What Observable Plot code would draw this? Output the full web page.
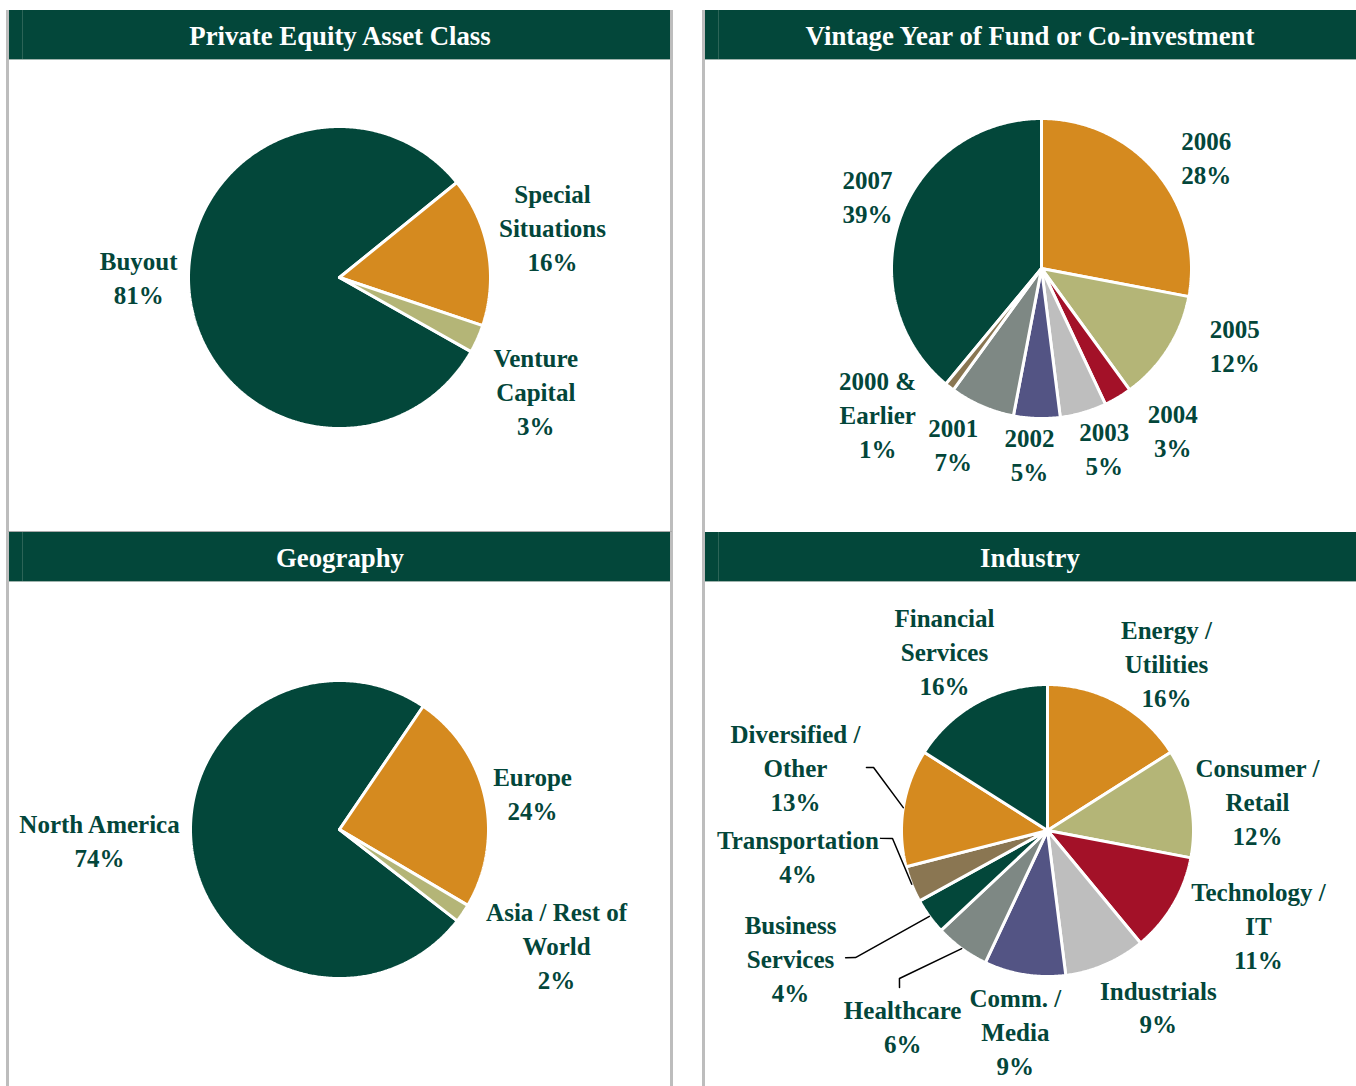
<!DOCTYPE html>
<html><head><meta charset="utf-8">
<script src="https://cdn.jsdelivr.net/npm/d3@7"></script>
<script src="https://cdn.jsdelivr.net/npm/@observablehq/plot@0.6"></script>
<style>
html,body{margin:0;padding:0;background:#fff;}
body{width:1356px;height:1086px;overflow:hidden;position:relative;font-family:"Liberation Serif","Times New Roman",serif;}
.abs{position:absolute;}
.hdr{position:absolute;height:50px;background:#03473A;color:#fff;font-weight:bold;font-size:26.8px;display:flex;align-items:center;justify-content:center;box-sizing:border-box;padding-top:4px;border-bottom:1px solid #9fb3ad;}
.vline{position:absolute;width:3px;background:#bdbdbd;z-index:5;}
.hline{position:absolute;height:1px;background:#a9a9a9;z-index:5;}
svg{display:block;}
</style></head>
<body>
<div id="root"></div>
<script>
// ---------- DATA ----------
const assetClasses = ["Buyout", "Special\nSituations", "Venture\nCapital"];
const assetShares = [81, 16, 3];

const vintageYears = ["2007", "2006", "2005", "2004", "2003", "2002", "2001", "2000 &\nEarlier"];
const vintageShares = [39, 28, 12, 3, 5, 5, 7, 1];

const regions = ["North America", "Europe", "Asia / Rest of\nWorld"];
const regionShares = [74, 24, 2];

const industries = ["Energy /\nUtilities", "Consumer /\nRetail", "Technology /\nIT", "Industrials",
  "Comm. /\nMedia", "Healthcare", "Business\nServices", "Transportation", "Diversified /\nOther", "Financial\nServices"];
const industryShares = [16, 12, 11, 9, 9, 6, 4, 4, 13, 16];

const panelTitles = ["Private Equity Asset Class", "Vintage Year of Fund or Co-investment", "Geography", "Industry"];

// ---------- STYLE ----------
const GREEN = "#03473A", ORANGE = "#D58A1F", KHAKI = "#B4B577", RED = "#A31128",
      LGRAY = "#BEBEBE", PURPLE = "#535484", GRAY = "#7E8884", BROWN = "#8A7652";
const TEXT = "#03463A";

const assetColors = [GREEN, ORANGE, KHAKI];
const vintageColors = [GREEN, ORANGE, KHAKI, RED, LGRAY, PURPLE, GRAY, BROWN];
const regionColors = [GREEN, ORANGE, KHAKI];
const industryColors = [ORANGE, KHAKI, RED, LGRAY, PURPLE, GRAY, GREEN, BROWN, ORANGE, GREEN];

// label placement: [radius factor, angle nudge in degrees from slice mid-angle]
const assetLabelPos = [[1.33, 4.2], [1.446, -2.5], [1.51, 6.6]];
const vintageLabelPos = [[1.25, 2.1], [1.32, 5.9], [1.39, -10.3], [1.40, -8.1], [1.28, -2.9], [1.256, 1.85], [1.32, 3.1], [1.47, 10.2]];
const regionLabelPos = [[1.613, 5.9], [1.316, 2.5], [1.658, -5.7]];
const industryLabelPos = [[1.393, 7], [1.45, 3.5], [1.59, -5.9], [1.437, -8.5], [1.407, 0], [1.68, 0.2], [1.97, 9.3], [1.72, 15.2], [1.776, 4.6], [1.403, -1.4]];
// leader lines (industry): slice index -> extra polar points [angle, radius factor]
const industryLeaders = [
  [5, [[225, 1.434], [223.3, 1.478]]],
  [6, [[236.5, 1.577], [237.8, 1.634]]],
  [7, [[267.05, 1.063], [267.3, 1.145]]],
  [8, [[289.9, 1.267], [289.2, 1.313]]]
];

const rad = Math.PI / 180;

function pieChart({names, values, colors, start, width, height, cx, cy, r, labelPos, leaders = []}) {
  const total = d3.sum(values);
  const slicePts = [];
  const labels = [];
  const mids = [];
  let a = start;
  names.forEach((n, i) => {
    const span = values[i] / total * 360;
    const a0 = a, a1 = a + span;
    a = a1;
    const steps = Math.max(2, Math.ceil(span / 0.5));
    slicePts.push({key: i, x: 0, y: 0, color: colors[i]});
    for (let k = 0; k <= steps; k++) {
      const t = (a0 + (a1 - a0) * k / steps) * rad;
      slicePts.push({key: i, x: Math.sin(t), y: Math.cos(t), color: colors[i]});
    }
    slicePts.push({key: i, x: 0, y: 0, color: colors[i]});
    const mid = (a0 + a1) / 2;
    mids.push(mid);
    const [rf, dA] = labelPos[i];
    const t = (mid + dA) * rad;
    labels.push({x: rf * Math.sin(t), y: rf * Math.cos(t), text: `${n}\n${values[i]}%`});
  });
  const leaderPts = [];
  leaders.forEach(([i, pts]) => {
    const t0 = mids[i] * rad;
    leaderPts.push({key: i, x: Math.sin(t0), y: Math.cos(t0)});
    pts.forEach(([ang, rf]) => leaderPts.push({key: i, x: rf * Math.sin(ang * rad), y: rf * Math.cos(ang * rad)}));
  });
  return Plot.plot({
    width, height, margin: 0,
    x: {domain: [-cx / r, (width - cx) / r], axis: null},
    y: {domain: [-(height - cy) / r, cy / r], axis: null},
    color: {type: "identity"},
    style: {background: "transparent", overflow: "visible"},
    marks: [
      Plot.line(slicePts, {x: "x", y: "y", z: "key", fill: "color", stroke: "white", strokeWidth: 3, strokeLinejoin: "miter", curve: "linear"}),
      Plot.line(leaderPts, {x: "x", y: "y", z: "key", stroke: "#000", strokeWidth: 1.5, curve: "linear"}),
      Plot.text(labels, {x: "x", y: "y", text: "text", fill: TEXT, fontSize: 25, fontWeight: "bold", dy: -3,
        fontFamily: "Liberation Serif, Times New Roman, serif", lineHeight: 1.36, textAnchor: "middle"})
    ]
  });
}

const root = document.getElementById("root");
function addDiv(cls, style, html) {
  const d = document.createElement("div");
  d.className = cls;
  Object.assign(d.style, style);
  if (html) d.textContent = html;
  root.appendChild(d);
  return d;
}

const panels = [
  {left: 8, top: 10, width: 664, height: 522, title: panelTitles[0],
   chart: {names: assetClasses, values: assetShares, colors: assetColors, start: 119.4, cx: 331, cy: 217, r: 151, labelPos: assetLabelPos}},
  {left: 704, top: 10, width: 652, height: 522, title: panelTitles[1],
   chart: {names: vintageYears, values: vintageShares, colors: vintageColors, start: 219.6, cx: 337, cy: 208, r: 150, labelPos: vintageLabelPos}},
  {left: 8, top: 532, width: 664, height: 554, title: panelTitles[2],
   chart: {names: regions, values: regionShares, colors: regionColors, start: 127.8, cx: 331, cy: 247, r: 149, labelPos: regionLabelPos}},
  {left: 704, top: 532, width: 652, height: 554, title: panelTitles[3],
   chart: {names: industries, values: industryShares, colors: industryColors, start: 0, cx: 343, cy: 248, r: 146, labelPos: industryLabelPos, leaders: industryLeaders}}
];

panels.forEach(p => {
  const holder = addDiv("abs", {left: p.left + "px", top: (p.top + 50) + "px", width: p.width + "px", height: (p.height - 50) + "px"});
  holder.appendChild(pieChart({...p.chart, width: p.width, height: p.height - 50}));
  addDiv("hdr", {left: p.left + "px", top: p.top + "px", width: p.width + "px"}, p.title);
  addDiv("abs", {left: (p.left + 14) + "px", top: p.top + "px", width: "1px", height: "49px", background: "#2c6457"});
});

// panel borders
addDiv("vline", {left: "6px", top: "10px", height: "1076px"});
addDiv("vline", {left: "670px", top: "10px", height: "1076px"});
addDiv("vline", {left: "702px", top: "10px", height: "1076px"});
addDiv("hline", {left: "8px", top: "531px", width: "664px"});
</script>
</body></html>
